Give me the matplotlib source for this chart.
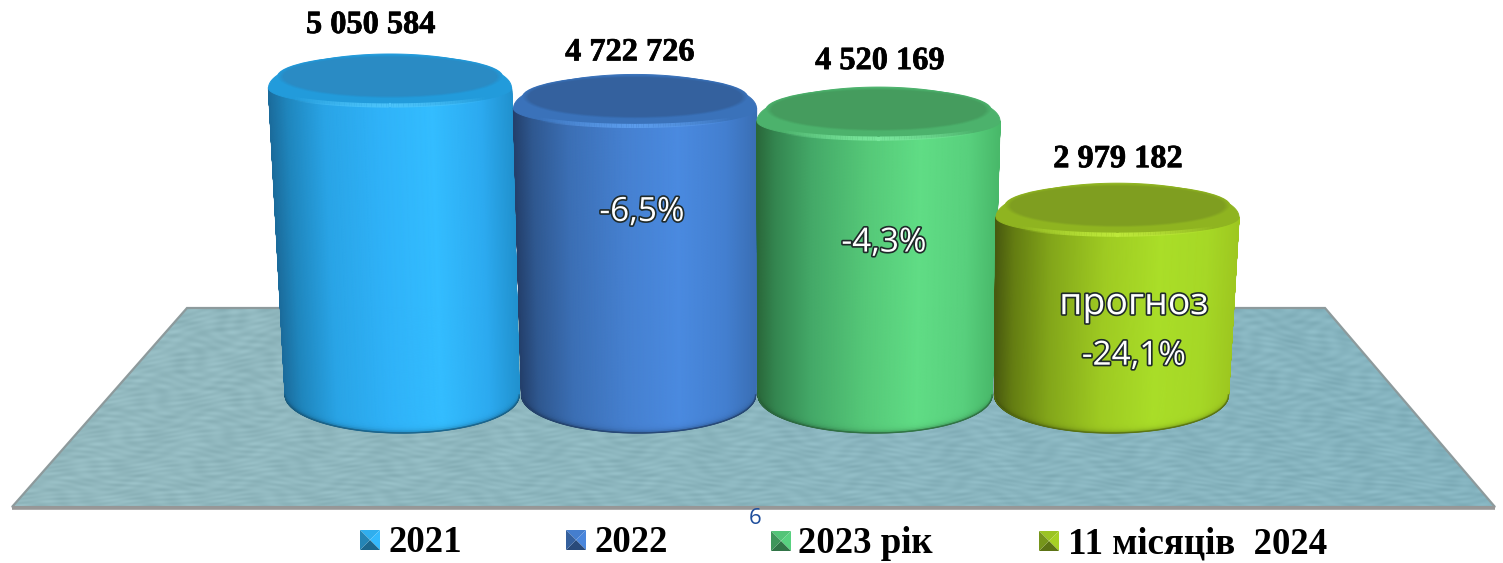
import numpy as np
import matplotlib
matplotlib.use("Agg")
import matplotlib.pyplot as plt
from matplotlib.colors import to_rgb
from matplotlib.patches import Ellipse, Polygon
from matplotlib.collections import LineCollection
import matplotlib.patheffects as pe

# ---- data ----
categories = ["2021", "2022", "2023 рік", "11 місяців  2024"]
values = [5050584, 4722726, 4520169, 2979182]
value_labels = ["5 050 584", "4 722 726", "4 520 169", "2 979 182"]
change_labels = [None, "-6,5%", "-4,3%", "прогноз\n-24,1%"]

# ---- style ----
W, H = 1503, 563
BASE_PX, UNIT_PX = 395.0, 315.0 / 5050584   # value 0 row, px per unit
X0_PX, STEP_PX = 390.0, 243.0               # category 0 column, px per category
BODY_STOPS = [-1, -0.85, -0.55, -0.1, 0.35, 0.75, 1]
BODY_COLORS = [
    ["#1b6c9c", "#1f86bd", "#29a4e6", "#2fb2f8", "#33bdff", "#2caaf0", "#2192cf"],
    ["#24406c", "#2f5890", "#3b6fb5", "#4580d0", "#4a8ae0", "#437fd0", "#3a6fb5"],
    ["#2a683a", "#348650", "#44a968", "#55c878", "#60dd85", "#58d07d", "#49b96a"],
    ["#48590f", "#647d12", "#83a61a", "#9fcb22", "#aade28", "#a6d826", "#9ec820"],
]
TOP_COLORS = ["#2a8bc4", "#34619e", "#459c5e", "#7f9e20"]
RIM_COLORS = ["#229bdb", "#3a72ba", "#4cb26c", "#8fb420"]
GLOW_COLORS = ["#4cc4fa", "#5b9cec", "#79e69c", "#bde83a"]
LEGEND_COLORS = ["#2ea6e2", "#4278c4", "#4fbb72", "#94ba22"]
TOP_SHIFT_PX = [0, 2, 2.5, -1.5]
SERIF = "Liberation Serif"
SANS = "Open Sans"

fig = plt.figure(figsize=(W / 100, H / 100), dpi=100, facecolor="white")

# pixel-space backdrop: floor and legend
bg = fig.add_axes([0, 0, 1, 1])
bg.set_xlim(0, W)
bg.set_ylim(H, 0)
bg.axis("off")

floor_pts = [(187, 308), (1325, 308), (1495, 507), (12, 507)]
yy, xx = np.mgrid[300:512:0.5, 0:1503:0.5]
depth = (yy - 300) / 212
u = (xx - 750) / (0.72 + 0.28 * depth)
yp = yy + 60 * depth ** 2
wave = (0.55 * np.sin(u / 6.1 + 3 * np.sin(yp / 7.3)) * np.sin(yp / 1.9 + 1.6 * np.sin(u / 17))
        + 0.30 * np.sin(u / 14 + 2 * np.sin(yp / 4.1)) * np.sin(yp / 3.7)
        + 0.15 * np.sin(yp / 1.1))
left = np.array(to_rgb("#93b9bf"))
right = np.array(to_rgb("#84b3bf"))
t = (xx / W)[..., None]
tex = left * (1 - t) + right * t + (wave[..., None] * 0.045)
im = bg.imshow(np.clip(tex, 0, 1), extent=(0, 1503, 512, 300), aspect="auto",
               interpolation="antialiased", zorder=1)
bg.set_xlim(0, W)
bg.set_ylim(H, 0)
fp = Polygon(floor_pts, closed=True, transform=bg.transData, fc="none", ec="none")
bg.add_patch(fp)
im.set_clip_path(fp)
bg.add_patch(Polygon(floor_pts, closed=True, fc="none", ec="#8d9a9c", lw=1.6, zorder=2))
bg.plot([12, 1495], [507.5, 507.5], color="#979797", lw=2.6, zorder=3, solid_capstyle="butt")

legend_x = [(360, 388, 552), (566, 594, 552), (771, 798, 553), (1039, 1068, 553)]
for (sq, tx, base), name, col in zip(legend_x, categories, LEGEND_COLORS):
    c = np.array(to_rgb(col))
    s = 20
    y0 = base - 22
    mid = (sq + s / 2, y0 + s / 2)
    corners = [(sq, y0), (sq + s, y0), (sq + s, y0 + s), (sq, y0 + s)]
    shades = [1.05, 1.12, 0.62, 0.80]
    for k, sh in enumerate(shades):
        bg.add_patch(Polygon([corners[k], corners[(k + 1) % 4], mid], closed=True,
                             fc=np.clip(c * sh, 0, 1), ec="none", zorder=4))
    bg.text(tx, base, name, family=SERIF, weight="bold", fontsize=26.6, color="black",
            ha="left", va="baseline", zorder=5)

bg.text(755, 518, "6", family=SANS, fontsize=16, color="#1f4e9c", ha="center", va="center", zorder=5)

# data-space chart axes, calibrated to the backdrop
ax = fig.add_axes([0, 0, 1, 1], facecolor="none")
ax.set_xlim((0 - X0_PX) / STEP_PX, (W - X0_PX) / STEP_PX)
ax.set_ylim((BASE_PX - H) / UNIT_PX, BASE_PX / UNIT_PX)
ax.axis("off")

HW_TOP, HW_BOT = 121.5 / STEP_PX, 117 / STEP_PX
EH_BOT = 38 / UNIT_PX
SHOULDER = 8 / UNIT_PX      # widest row sits below the top-cap centre
CAP_BACK, CAP_FRONT = 34 / UNIT_PX, 18 / UNIT_PX

for i, v in enumerate(values):
    cx_top = i + TOP_SHIFT_PX[i] / STEP_PX
    cx_bot = 0.05 + 0.973 * i
    n_u, n_v = 400, 200
    # denser columns towards the edges so the round ends stay smooth
    us = np.sin(np.linspace(-np.pi / 2, np.pi / 2, n_u + 1))
    vs = np.linspace(0, 1, n_v + 1)
    root = np.sqrt(np.clip(1 - us ** 2, 0, 1))
    y_low = -EH_BOT * root
    y_up = v - SHOULDER - CAP_FRONT * root
    xb, xt = cx_bot + HW_BOT * us, cx_top + HW_TOP * us
    X = np.outer(1 - vs, xb) + np.outer(vs, xt)
    Y = np.outer(1 - vs, y_low) + np.outer(vs, y_up)
    rgb_stops = np.array([to_rgb(c) for c in BODY_COLORS[i]])
    row = np.stack([np.interp(us, BODY_STOPS, rgb_stops[:, k]) for k in range(3)], axis=1)
    C = np.repeat(row[None, :, :], n_v + 1, axis=0)
    height_px = (Y - Y[0]) * UNIT_PX
    dark = 1 - 0.40 * np.exp(-np.clip(height_px, 0, None) / 2.0)
    C = C * dark[..., None]
    ax.pcolormesh(X, Y, C, shading="gouraud", antialiased=False, linewidth=0, zorder=10 + i)

    # smooth the mesh silhouette
    ax.plot(X[:, 0], Y[:, 0], color=BODY_COLORS[i][0], lw=1.0, alpha=0.8, zorder=10 + i)
    ax.plot(X[:, -1], Y[:, -1], color=BODY_COLORS[i][-1], lw=1.0, alpha=0.8, zorder=10 + i)
    ax.plot(X[0, :], Y[0, :], color=np.array(to_rgb(BODY_COLORS[i][3])) * 0.55, lw=1.0, alpha=0.8, zorder=10 + i)

    # top cap outline: back half and front bevel share the widest row
    a = np.linspace(-np.pi, np.pi, 361)
    cap_x = cx_top + HW_TOP * np.cos(a)
    sin_a = np.sin(a)
    cap_y = v - SHOULDER + np.where(sin_a > 0, CAP_BACK, CAP_FRONT) * sin_a
    ax.add_patch(Polygon(np.c_[cap_x, cap_y], closed=True, fc=RIM_COLORS[i], ec=RIM_COLORS[i],
                         lw=0.7, zorder=10.1 + i))
    # inner face with a soft edge
    c_rim, c_top = np.array(to_rgb(RIM_COLORS[i])), np.array(to_rgb(TOP_COLORS[i]))
    for k, f in enumerate(np.linspace(0, 1, 7)):
        ax.add_patch(Ellipse((cx_top, v + 3.5 / UNIT_PX),
                             2 * HW_TOP * (0.93 - 0.05 * f), 2 * 19.5 / UNIT_PX * (1.12 - 0.12 * f),
                             fc=c_rim * (1 - f) + c_top * f, ec="none", zorder=10.2 + i + k * 0.01))
    # glowing front edge
    a2 = np.linspace(-0.8, 0.8, 80)
    gx = cx_top + HW_TOP * a2
    gy = v - SHOULDER - (CAP_FRONT - 0.5 / UNIT_PX) * np.sqrt(1 - a2 ** 2)
    segs = np.stack([np.c_[gx[:-1], gy[:-1]], np.c_[gx[1:], gy[1:]]], axis=1)
    g = np.array(to_rgb(GLOW_COLORS[i]))
    am = 0.5 * (a2[1:] + a2[:-1])
    alphas = np.clip(1 - (np.abs(am) / 0.8) ** 1.5, 0, 1)
    ax.add_collection(LineCollection(segs, colors=np.c_[np.tile(g, (len(am), 1)), alphas],
                                     linewidths=3, zorder=10.3 + i))

label_dx = [-19, -3, 4, -1]
label_dy = [54.5, 47.5, 51.5, 49.5]
for i, (v, s) in enumerate(zip(values, value_labels)):
    ax.text(i + label_dx[i] / STEP_PX, v + label_dy[i] / UNIT_PX, s, family=SERIF, weight="bold",
            fontsize=23.3, color="black", ha="center", va="center", zorder=30,
            path_effects=[pe.withStroke(linewidth=0.5, foreground="black")])

stroke = [pe.withStroke(linewidth=2.4, foreground="#1f2a2a")]
change_pos = [None, (9 / STEP_PX, 112), (8 / STEP_PX, 130), (15 / STEP_PX, 95)]
for i, s in enumerate(change_labels):
    if s is None:
        continue
    dx, dy = change_pos[i]
    if "\n" in s:
        a_, b_ = s.split("\n")
        ax.text(i + dx, values[i] - dy / UNIT_PX, a_, family=SANS, fontsize=27, color="white",
                ha="center", va="center", zorder=31, path_effects=stroke)
        ax.text(i + dx, values[i] - (dy + 52) / UNIT_PX, b_, family=SANS, fontsize=24, color="white",
                ha="center", va="center", zorder=31, path_effects=stroke)
    else:
        ax.text(i + dx, values[i] - dy / UNIT_PX, s, family=SANS, fontsize=24, color="white",
                ha="center", va="center", zorder=31, path_effects=stroke)

fig.savefig("out.png", dpi=100, facecolor="white")
